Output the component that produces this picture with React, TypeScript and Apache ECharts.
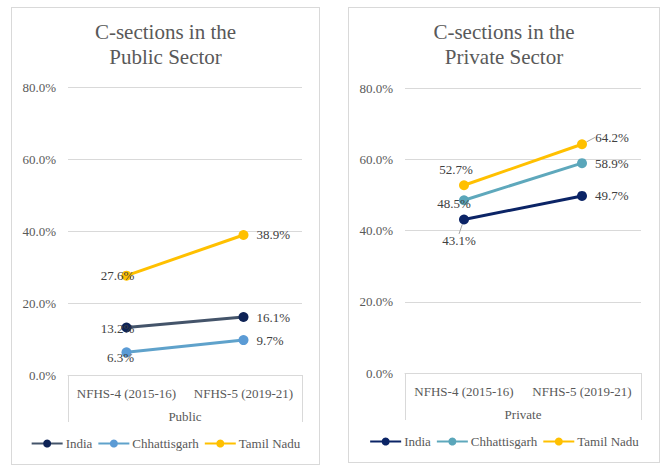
import React, { useEffect, useRef } from "react";
import * as echarts from "echarts";

const categories = ["NFHS-4 (2015-16)", "NFHS-5 (2019-21)"];
const seriesNames = ["India", "Chhattisgarh", "Tamil Nadu"];

const publicIndia = [13.2, 16.1];
const publicChhattisgarh = [6.3, 9.7];
const publicTamilNadu = [27.6, 38.9];

const privateIndia = [43.1, 49.7];
const privateChhattisgarh = [48.5, 58.9];
const privateTamilNadu = [52.7, 64.2];

const yMin = 0;
const yMax = 80;
const yInterval = 20;

const FONT = "Liberation Serif, Times New Roman, serif";
const GREY = "#595959";
const LABEL = "#404040";
const GRID = "#d9d9d9";

type LabelCfg = { position: any; distance?: number; line?: boolean; dx?: number; dy?: number };

const right: LabelCfg = { position: "right", distance: 8 };

const panels = [
  {
    key: "public",
    box: { left: 11, top: 7, width: 309, height: 458 },
    title: ["C-sections in the", "Public Sector"],
    group: "Public",
    values: [publicIndia, publicChhattisgarh, publicTamilNadu],
    lineColors: ["#44546A", "#5FA2CB", "#FFC000"],
    markerColors: ["#0E2356", "#5B9BD5", "#FFC000"],
    labels: [
      [{ position: "inside", dx: -9, dy: 1 }, right],
      [{ position: "inside", dx: -6, dy: 5 }, right],
      [{ position: "inside", dx: -9, dy: 0 }, right],
    ] as LabelCfg[][],
    grid: { left: 56, right: 17, top: 79, bottom: 89 },
    legendTop: 424,
  },
  {
    key: "private",
    box: { left: 348, top: 7, width: 312, height: 456 },
    title: ["C-sections in the", "Private Sector"],
    group: "Private",
    values: [privateIndia, privateChhattisgarh, privateTamilNadu],
    lineColors: ["#0B2466", "#5EA8BC", "#FFC000"],
    markerColors: ["#0B2466", "#5AA6BA", "#FFC000"],
    labels: [
      [{ position: "inside", line: true, dx: -5, dy: 21 }, right],
      [{ position: "inside", dx: -10, dy: 3 }, right],
      [{ position: "inside", dx: -8, dy: -16 }, { position: "inside", line: true, dx: 30, dy: -7 }],
    ] as LabelCfg[][],
    grid: { left: 56, right: 18, top: 80, bottom: 89 },
    legendTop: 422,
  },
];

function Panel({ p }: { p: (typeof panels)[number] }) {
  const ref = useRef<HTMLDivElement>(null);
  useEffect(() => {
    if (!ref.current) return;
    const chart = echarts.init(ref.current, undefined, { renderer: "svg" });
    const w = p.box.width - 2;
    const h = p.box.height - 2;
    const plotLeft = p.grid.left;
    const plotRight = w - p.grid.right;
    const axisY = h - p.grid.bottom;
    const series = seriesNames.map((name, si) => ({
      name,
      type: "line",
      data: p.values[si].map((v, i) => {
        const cfg = p.labels[si][i];
        const lab: any = { position: cfg.position };
        if (cfg.distance !== undefined) lab.distance = cfg.distance;
        return {
          value: v,
          label: lab,
          labelLine: cfg.line
            ? { show: true, lineStyle: { color: "#a6a6a6", width: 1 } }
            : { show: false },
        };
      }),
      symbol: "circle",
      symbolSize: 10,
      z: 2 + si,
      lineStyle: { color: p.lineColors[si], width: 3 },
      itemStyle: { color: p.markerColors[si] },
      label: {
        show: true,
        color: LABEL,
        fontFamily: FONT,
        fontSize: 13,
        formatter: (q: any) => `${Number(q.value).toFixed(1)}%`,
      },
      labelLayout: (params: any) => {
        const cfg = p.labels[si][params.dataIndex];
        if (cfg && cfg.dx !== undefined) return { dx: cfg.dx, dy: cfg.dy };
        return {};
      },
      emphasis: { disabled: true },
    }));
    chart.setOption({
      animation: false,
      textStyle: { fontFamily: FONT },
      title: [
        {
          text: p.title.join("\n"),
          left: "center",
          top: 6,
          textStyle: {
            fontFamily: FONT,
            fontSize: 21,
            fontWeight: "normal",
            color: GREY,
            lineHeight: 25,
          },
        },
      ],
      grid: p.grid,
      legend: {
        data: seriesNames,
        top: p.legendTop,
        left: "center",
        itemWidth: 31,
        itemHeight: 10,
        itemGap: 5,
        textStyle: { fontFamily: FONT, fontSize: 13, color: GREY, padding: [0, 0, 0, -2] },
        selectedMode: false,
      },
      xAxis: {
        type: "category",
        data: categories,
        boundaryGap: true,
        axisLine: { show: true, lineStyle: { color: GRID, width: 1 } },
        axisTick: { show: false },
        axisLabel: { color: GREY, fontFamily: FONT, fontSize: 13, margin: 12, interval: 0 },
        name: p.group,
        nameLocation: "middle",
        nameGap: 35,
        nameTextStyle: { color: GREY, fontFamily: FONT, fontSize: 13 },
      },
      yAxis: {
        type: "value",
        min: yMin,
        max: yMax,
        interval: yInterval,
        axisLine: { show: false },
        axisTick: { show: false },
        splitLine: { lineStyle: { color: GRID, width: 1 } },
        axisLabel: {
          color: GREY,
          fontFamily: FONT,
          fontSize: 13,
          margin: 12,
          formatter: (v: number) => `${v.toFixed(1)}%`,
        },
      },
      graphic: [
        {
          type: "line",
          shape: { x1: plotLeft + 0.5, y1: axisY, x2: plotLeft + 0.5, y2: axisY + 47 },
          style: { stroke: GRID, lineWidth: 1 },
        },
        {
          type: "line",
          shape: { x1: plotRight + 0.5, y1: axisY, x2: plotRight + 0.5, y2: axisY + 47 },
          style: { stroke: GRID, lineWidth: 1 },
        },
      ],
      series,
    });
    return () => chart.dispose();
  }, [p]);
  return (
    <div
      style={{
        position: "absolute",
        left: p.box.left,
        top: p.box.top,
        width: p.box.width,
        height: p.box.height,
        border: `1px solid ${GRID}`,
        boxSizing: "border-box",
        background: "#fff",
      }}
    >
      <div ref={ref} style={{ width: p.box.width - 2, height: p.box.height - 2 }} />
    </div>
  );
}

export default function App() {
  return (
    <div style={{ position: "absolute", left: 0, top: 0, width: 669, height: 474, background: "#fff" }}>
      {panels.map((p) => (
        <Panel key={p.key} p={p} />
      ))}
    </div>
  );
}
